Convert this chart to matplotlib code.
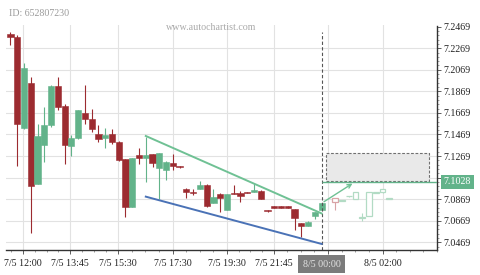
import matplotlib
matplotlib.use('Agg')
import matplotlib.pyplot as plt
import matplotlib.patches as mpatches
import matplotlib.transforms as mtransforms
from matplotlib.ticker import FixedLocator, FixedFormatter
import numpy as np

# bougies 15 min (historique)
opens = [7.2402, 7.2371, 7.1532, 7.1947, 7.1010, 7.1374, 7.1560, 7.1919, 7.1733, 7.1365,
         7.1437, 7.1669, 7.1613, 7.1474, 7.1439, 7.1474, 7.1402, 7.1239, 7.0799, 7.1279,
         7.1254, 7.1288, 7.1155, 7.1140, 7.1207, 7.1177, 7.0966, 7.0938, 7.0966, 7.1000,
         7.0836, 7.0914, 7.0768, 7.0929, 7.0929, 7.0935, 7.0935, 7.0948, 7.0764, 7.0801,
         7.0801, 7.0801, 7.0778, 7.0645, 7.0623, 7.0716, 7.0768]
highs = [7.2423, 7.2390, 7.2130, 7.2003, 7.1564, 7.1721, 7.1925, 7.2003, 7.1749, 7.1464,
         7.1700, 7.1928, 7.1703, 7.1557, 7.1527, 7.1517, 7.1410, 7.1245, 7.1255, 7.1346,
         7.1449, 7.1290, 7.1300, 7.1220, 7.1288, 7.1180, 7.0968, 7.0961, 7.1038, 7.1005,
         7.0966, 7.0924, 7.0918, 7.1000, 7.0945, 7.0937, 7.1016, 7.0950, 7.0765, 7.0802,
         7.0802, 7.0802, 7.0780, 7.0648, 7.0668, 7.0750, 7.0835]
lows = [7.2300, 7.1174, 7.1520, 7.0552, 7.1007, 7.1211, 7.1536, 7.1699, 7.1192, 7.1267,
        7.1427, 7.1564, 7.1495, 7.1397, 7.1341, 7.1378, 7.1225, 7.0701, 7.0795, 7.1195,
        7.1031, 7.1170, 7.0868, 7.1047, 7.1140, 7.1160, 7.0877, 7.0905, 7.0962, 7.0793,
        7.0832, 7.0753, 7.0765, 7.0915, 7.0840, 7.0924, 7.0933, 7.0868, 7.0754, 7.0790,
        7.0790, 7.0790, 7.0583, 7.0521, 7.0620, 7.0685, 7.0765]
closes = [7.2377, 7.1564, 7.2086, 7.0994, 7.1455, 7.1557, 7.1919, 7.1727, 7.1374, 7.1437,
          7.1696, 7.1616, 7.1523, 7.1430, 7.1464, 7.1397, 7.1232, 7.0799, 7.1248, 7.1254,
          7.1279, 7.1207, 7.1295, 7.1217, 7.1179, 7.1167, 7.0935, 7.0929, 7.1000, 7.0806,
          7.0886, 7.0883, 7.0914, 7.0917, 7.0901, 7.0926, 7.0954, 7.0871, 7.0755, 7.0791,
          7.0791, 7.0791, 7.0690, 7.0623, 7.0660, 7.0747, 7.0831]

# bougies prevues apres la ligne pointillee (la premiere est vide)
f_opens = [np.nan, 7.0877, 7.0853, 7.0895, 7.0868, 7.0697, 7.0713, 7.0928, 7.0933, 7.0873]
f_highs = [np.nan, 7.0880, 7.0862, 7.0902, 7.0938, 7.0738, 7.0936, 7.0935, 7.0965, 7.0880]
f_lows = [np.nan, 7.0768, 7.0848, 7.0893, 7.0866, 7.0666, 7.0710, 7.0926, 7.0930, 7.0872]
f_closes = [np.nan, 7.0840, 7.0858, 7.0901, 7.0933, 7.0706, 7.0933, 7.0934, 7.0961, 7.0879]

tick_labels = ['7/5 12:00', '7/5 13:45', '7/5 15:30', '7/5 17:30',
               '7/5 19:30', '7/5 21:45', '', '8/5 02:00']
tick_pos = [1.85, 8.8, 15.9, 24.0, 32.0, 38.95, 46.9, 55.05]
y_ticks = [7.0469, 7.0669, 7.0869, 7.1069, 7.1269, 7.1469, 7.1669, 7.1869, 7.2069, 7.2269, 7.2469]

upper_x, upper_y = [20, 46], [7.1455, 7.0736]
lower_x, lower_y = [20, 46], [7.0892, 7.0453]
now_idx = 46
now_label = '8/5 00:00'
target = 7.1028
zone_low, zone_high = 7.1037, 7.1295
zone_x0, zone_x1 = 46.64, 61.9

red = '#9c2b30'
green = '#62b38a'
pale_red = '#d9a3a6'
pale_green = '#b2dbc4'
line_green = '#6fc194'
blue = '#4a72b6'

plt.rcParams['font.family'] = ['Liberation Serif', 'DejaVu Serif']
plt.rcParams['font.size'] = 7.2

fig = plt.figure(figsize=(4.8, 2.75), dpi=100)
ax = fig.add_axes([6 / 480, 25 / 275, 431 / 480, 224.5 / 275])

# historique
x = np.arange(len(opens))
o, h, l, c = map(np.array, (opens, highs, lows, closes))
cols = [green if cc >= oo else red for oo, cc in zip(o, c)]
ax.vlines(x, l, h, colors=cols, lw=0.8, zorder=2)
ax.bar(x, np.abs(c - o), bottom=np.minimum(o, c), width=0.92, color=cols,
       edgecolor=cols, lw=0.4, zorder=2)

# prevision
xf = np.arange(len(opens), len(opens) + len(f_opens))
fo, fh, fl, fc = map(np.array, (f_opens, f_highs, f_lows, f_closes))
fcols = [pale_green if not (cc < oo) else pale_red for oo, cc in zip(fo, fc)]
ax.vlines(xf, fl, fh, colors=fcols, lw=0.8, zorder=2)
ax.bar(xf, np.abs(fc - fo), bottom=np.minimum(fo, fc), width=0.85, color='white',
       edgecolor=fcols, lw=0.9, zorder=2)

# figure en triangle
ax.plot(upper_x, upper_y, color=line_green, lw=1.4, zorder=3)
ax.plot(lower_x, lower_y, color=blue, lw=1.4, zorder=3)

# zone cible
zone = mpatches.Rectangle((zone_x0, zone_low), zone_x1 - zone_x0, zone_high - zone_low,
                          facecolor='#e9e9e9', edgecolor='#707070', ls=(0, (2.5, 1.5)),
                          lw=0.8, zorder=1.5)
ax.add_patch(zone)
ax.hlines(target, now_idx, 63.05, color=green, lw=1.0, zorder=3)
ax.annotate('', xy=(50.9, target), xytext=(now_idx, closes[-1]),
            arrowprops=dict(arrowstyle='->', color=line_green, lw=1.0, mutation_scale=7),
            zorder=3)
ax.axvline(now_idx, ymax=0.97, color='#555555', ls=(0, (3, 2)), lw=0.8, zorder=2.5)

ax.set_xlim(-0.665, 63.05)
ax.set_ylim(7.0397, 7.2480)

# axes
ax.yaxis.tick_right()
ax.yaxis.set_major_locator(FixedLocator(y_ticks))
# l'etiquette 7.1069 est cachee par la boite de la cible
ax.yaxis.set_major_formatter(FixedFormatter(['' if v == 7.1069 else '%.4f' % v for v in y_ticks]))
ax.yaxis.set_minor_locator(FixedLocator(np.arange(7.0429, 7.2470, 0.004)))
ax.xaxis.set_major_locator(FixedLocator(tick_pos))
ax.xaxis.set_major_formatter(FixedFormatter(tick_labels))
minor_x = [tick_pos[0] - 1.75]
for a, b in zip(tick_pos[:-1], tick_pos[1:]):
    minor_x += [a + (b - a) * q for q in (0.25, 0.5, 0.75)]
minor_x += [tick_pos[-1] + 2 * q for q in (1, 2, 3, 4)]
ax.xaxis.set_minor_locator(FixedLocator(minor_x))

ax.tick_params(axis='both', which='major', length=3, width=0.6, color='#444', labelcolor='#222')
ax.tick_params(axis='both', which='minor', length=1.6, width=0.5, color='#777')
ax.tick_params(axis='x', pad=3.5)
ax.tick_params(axis='y', pad=1.5)

for s in ('left', 'top'):
    ax.spines[s].set_visible(False)
for s in ('right', 'bottom'):
    ax.spines[s].set_color('#333333')
    ax.spines[s].set_linewidth(1.0)

ax.set_axisbelow(True)
ax.grid(True, color='#e2e2e2', lw=0.8)
ax.get_ygridlines()[-1].set_visible(False)

# etiquettes
tr = mtransforms.blended_transform_factory(ax.transAxes, ax.transData)
ax.text(1.0155, target, '%.4f' % target, transform=tr, ha='left', va='center',
        color='white', fontsize=7.2, clip_on=False, zorder=10,
        bbox=dict(boxstyle='square,pad=0.28', fc=green, ec='none'))
tr2 = mtransforms.blended_transform_factory(ax.transData, ax.transAxes)
ax.text(now_idx, -0.0635, now_label, transform=tr2, ha='center', va='center',
        color='#e4e4e4', fontsize=7.2, clip_on=False, zorder=10,
        bbox=dict(boxstyle='square,pad=0.45', fc='#7b7b7b', ec='none'))

fig.text(9 / 480, 1 - 13.5 / 275, 'ID: 652807230', va='center', ha='left',
         color='#9a9a9a', fontsize=7.2)
fig.text(165.7 / 480, 1 - 27 / 275, 'www.autochartist.com', va='center', ha='left',
         color='#aaaaaa', fontsize=7.2)

fig.savefig('out.png', dpi=100)
